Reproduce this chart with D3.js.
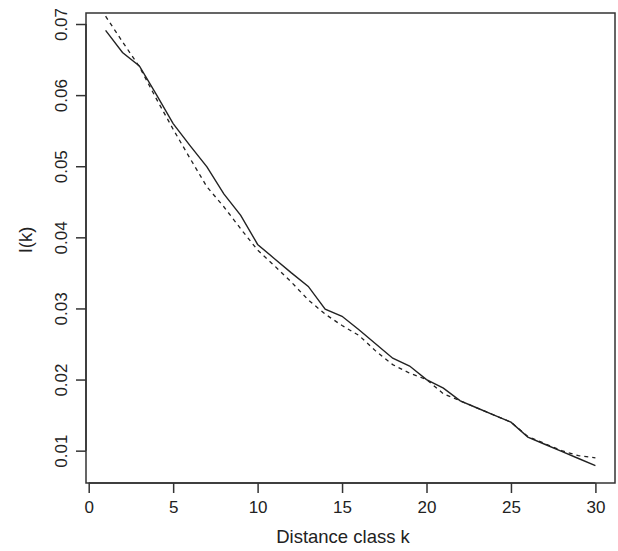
<!DOCTYPE html>
<html>
<head>
<meta charset="utf-8">
<script src="https://cdn.jsdelivr.net/npm/d3@7"></script>
<style>
  body { margin: 0; background: #fff; }
  text { font-family: "Liberation Sans", Arial, sans-serif; fill: #222; }
</style>
</head>
<body>
<script>
// distance classes and the two I(k) curves
var classes = d3.range(1, 31);
var observed = [0.0691, 0.0660, 0.0641, 0.0601, 0.0560, 0.0529, 0.0499, 0.0461, 0.0431, 0.0390,
                0.0370, 0.0350, 0.0331, 0.0299, 0.0289, 0.0270, 0.0250, 0.0230, 0.0219, 0.0200,
                0.0188, 0.0170, 0.0160, 0.0150, 0.0140, 0.0119, 0.0109, 0.0099, 0.0089, 0.0079];
var fitted = [0.0711, 0.0675, 0.0640, 0.0595, 0.0552, 0.0511, 0.0471, 0.0443, 0.0412, 0.0382,
              0.0360, 0.0337, 0.0312, 0.0292, 0.0276, 0.0262, 0.0240, 0.0221, 0.0209, 0.0200,
              0.0180, 0.0170, 0.0160, 0.0150, 0.0140, 0.0120, 0.0110, 0.0100, 0.0093, 0.0090];
var xTicks = [0, 5, 10, 15, 20, 25, 30];
var yTicks = [0.01, 0.02, 0.03, 0.04, 0.05, 0.06, 0.07];

var W = 618, H = 551;
var box = {left: 86, right: 615, top: 13, bottom: 483};

var svg = d3.select("body").append("svg")
    .attr("width", W)
    .attr("height", H);

// R style 4% padding on the data range
var xr = [1, 30], xp = (xr[1] - xr[0]) * 0.04;
var yr = [d3.min(observed), d3.max(observed)], yp = (yr[1] - yr[0]) * 0.04;

var x = d3.scaleLinear().domain([xr[0] - xp, xr[1] + xp]).range([box.left, box.right]);
var y = d3.scaleLinear().domain([yr[0] - yp, yr[1] + yp]).range([box.bottom, box.top]);

svg.append("defs").append("clipPath").attr("id", "clip")
  .append("rect")
    .attr("x", box.left).attr("y", box.top)
    .attr("width", box.right - box.left).attr("height", box.bottom - box.top);

var line = d3.line()
    .x(function (d) { return x(d[0]); })
    .y(function (d) { return y(d[1]); });

svg.append("path")
    .datum(classes.map(function (k, i) { return [k, fitted[i]]; }))
    .attr("clip-path", "url(#clip)")
    .attr("d", line)
    .attr("fill", "none")
    .attr("stroke", "#222")
    .attr("stroke-width", 1.3)
    .attr("stroke-dasharray", "4,4");

svg.append("path")
    .datum(classes.map(function (k, i) { return [k, observed[i]]; }))
    .attr("clip-path", "url(#clip)")
    .attr("d", line)
    .attr("fill", "none")
    .attr("stroke", "#222")
    .attr("stroke-width", 1.4);

// plot frame
svg.append("rect")
    .attr("x", box.left).attr("y", box.top)
    .attr("width", box.right - box.left).attr("height", box.bottom - box.top)
    .attr("fill", "none")
    .attr("stroke", "#333")
    .attr("stroke-width", 1.5);

// x axis
var xAxis = d3.axisBottom(x).tickValues(xTicks).tickSize(10).tickPadding(8);
var gx = svg.append("g")
    .attr("transform", "translate(0," + box.bottom + ")")
    .call(xAxis);
gx.select(".domain").attr("d", "M" + x(0) + ",0H" + x(30)).attr("stroke", "#333").attr("stroke-width", 1.5);
gx.selectAll(".tick line").attr("stroke", "#333").attr("stroke-width", 1.5);
gx.selectAll(".tick text").attr("font-size", 17).attr("fill", "#222");

// y axis, labels rotated like R's default
var yAxis = d3.axisLeft(y).tickValues(yTicks).tickSize(10).tickFormat(d3.format(".2f"));
var gy = svg.append("g")
    .attr("transform", "translate(" + box.left + ",0)")
    .call(yAxis);
gy.select(".domain").attr("d", "M0," + y(0.01) + "V" + y(0.07)).attr("stroke", "#333").attr("stroke-width", 1.5);
gy.selectAll(".tick line").attr("stroke", "#333").attr("stroke-width", 1.5);
gy.selectAll(".tick text")
    .attr("font-size", 17)
    .attr("fill", "#222")
    .attr("x", null).attr("dy", null)
    .attr("text-anchor", "middle")
    .attr("transform", "translate(-19,0) rotate(-90)");

svg.append("text")
    .attr("x", 343)
    .attr("y", 543)
    .attr("text-anchor", "middle")
    .attr("font-size", 18.5)
    .text("Distance class k");

svg.append("text")
    .attr("transform", "translate(32,240) rotate(-90)")
    .attr("text-anchor", "middle")
    .attr("font-size", 18.5)
    .text("I(k)");
</script>
</body>
</html>
